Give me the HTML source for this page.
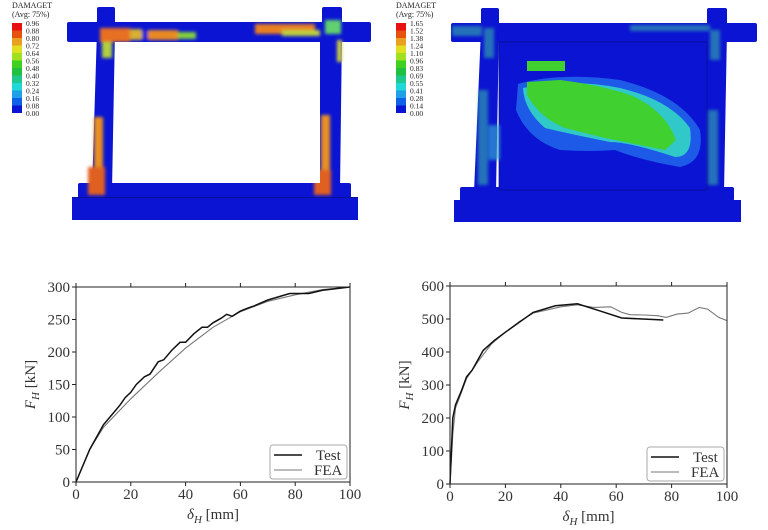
<!DOCTYPE html>
<html><head><meta charset="utf-8"><style>
html,body{margin:0;padding:0;background:#fff;}
svg{display:block;font-family:"Liberation Serif",serif;}
</style></head><body>
<svg id="root" width="768" height="530" viewBox="0 0 768 530" xmlns="http://www.w3.org/2000/svg">
<defs>
<filter id="bl" x="-20%" y="-20%" width="140%" height="140%"><feGaussianBlur stdDeviation="1.5"/></filter>
</defs>

<!-- LEFT FE MODEL -->
<g>
  <g font-size="8" fill="#222">
    <text x="12" y="8">DAMAGET</text>
    <text x="12" y="17">(Avg: 75%)</text>
    <g id="leg1"></g>
  </g>
  <g fill="#0a14d2">
    <rect x="97" y="7" width="18" height="20" rx="2"/>
    <rect x="322" y="7" width="20" height="20" rx="2"/>
    <rect x="67" y="22" width="304" height="20" rx="2"/>
    <polygon points="97,30 115,30 112,190 92,190"/>
    <polygon points="320,30 342,30 340,190 318,190"/>
    <rect x="78" y="183" width="273" height="15" rx="2"/>
    <rect x="72" y="197" width="286" height="23"/>
  </g>
  <line x1="72" y1="197.5" x2="358" y2="197.5" stroke="#061080" stroke-width="0.8"/>
  <g filter="url(#bl)">
    <rect x="100" y="28" width="30" height="14" fill="#e87020"/>
    <rect x="130" y="29" width="12" height="11" fill="#d8b030"/>
    <rect x="142" y="31" width="6" height="8" fill="#0a14d2"/>
    <rect x="148" y="30" width="30" height="10" fill="#e88a20"/>
    <rect x="178" y="32" width="18" height="7" fill="#80d040"/>
    <rect x="102" y="42" width="10" height="16" fill="#b0d040"/>
    <rect x="255" y="24" width="60" height="10" fill="#e88020"/>
    <rect x="282" y="30" width="38" height="6" fill="#c0d040"/>
    <rect x="325" y="20" width="16" height="14" fill="#60d070"/>
    <rect x="337" y="40" width="5" height="22" fill="#d0d040"/>
    <rect x="94" y="117" width="9" height="50" fill="#e89020"/>
    <rect x="88" y="167" width="17" height="28" fill="#e06020"/>
    <rect x="321" y="115" width="9" height="55" fill="#e89020"/>
    <rect x="314" y="170" width="17" height="25" fill="#e06020"/>
  </g>
  <rect x="115" y="42" width="205" height="141" fill="#fff"/>
</g>

<!-- RIGHT FE MODEL -->
<g>
  <g font-size="8" fill="#222">
    <text x="396" y="8">DAMAGET</text>
    <text x="396" y="17">(Avg: 75%)</text>
    <g id="leg2"></g>
  </g>
  <g fill="#0a14d2">
    <rect x="481" y="8" width="18" height="20" rx="2"/>
    <rect x="707" y="8" width="20" height="20" rx="2"/>
    <rect x="451" y="23" width="306" height="19" rx="2"/>
    <polygon points="481,30 499,30 496,192 474,192"/>
    <polygon points="707,30 727,30 724,192 704,192"/>
    <rect x="460" y="187" width="274" height="14" rx="2"/>
    <rect x="454" y="200" width="287" height="22"/>
    <rect x="499" y="42" width="208" height="148"/>
  </g>
  <rect x="499" y="42" width="208" height="148" fill="none" stroke="#061080" stroke-width="0.7"/>
  <g>
    <path d="M518,84 Q560,72 620,80 Q680,95 700,130 Q705,162 680,167 Q640,160 615,150 Q590,152 560,150 Q528,140 516,110 Z" fill="#1e5ae8"/>
    <path d="M523,88 Q570,78 620,88 Q670,100 690,128 Q694,157 675,157 Q630,142 610,142 Q570,134 545,128 Q524,110 523,88 Z" fill="#30c8c8"/>
    <path d="M527,82 L560,80 Q600,85 630,95 Q665,110 676,140 L665,150 Q640,145 605,138 L565,128 Q540,118 527,95 Z" fill="#40d030"/>
    <rect x="527" y="61" width="38" height="10" fill="#40d030"/>
    <rect x="488" y="125" width="12" height="35" fill="#30a0d0" opacity="0.7" filter="url(#bl)"/>
    <g fill="#40d0a0" opacity="0.5" filter="url(#bl)">
      <rect x="452" y="26" width="30" height="10"/>
      <rect x="484" y="28" width="10" height="30"/>
      <rect x="478" y="90" width="10" height="95"/>
      <rect x="630" y="25" width="80" height="6"/>
      <rect x="710" y="30" width="10" height="30"/>
      <rect x="708" y="110" width="10" height="75"/>
    </g>
  </g>
</g>

<!-- CHARTS -->
<g id="chartL"></g>
<g id="chartR"></g>
</svg>
<script>
const legendLabels1 = ["0.96","0.88","0.80","0.72","0.64","0.56","0.48","0.40","0.32","0.24","0.16","0.08","0.00"];
const legendLabels2 = ["1.65","1.52","1.38","1.24","1.10","0.96","0.83","0.69","0.55","0.41","0.28","0.14","0.00"];
const legendColors = ["#e81010","#e85010","#e8a020","#e0e020","#a0e020","#40d020","#20c040","#20c890","#20d8d8","#20a0e8","#1060e8","#0a14d2"];

const xTicks = [0,20,40,60,80,100];
const yTicksL = [0,50,100,150,200,250,300];
const yTicksR = [0,100,200,300,400,500,600];

const testXL = [0,5,10,13,16,18,20,22,25,27,30,32,35,38,40,43,46,48,50,53,55,57,60,63,65,70,78,85,90,100];
const testYL = [0,50,88,103,118,130,138,150,162,166,185,188,203,215,215,228,238,238,245,252,258,255,263,268,271,280,290,290,295,300];
const feaXL = [0,5,10,20,30,40,50,60,70,80,90,100];
const feaYL = [0,50,84,128,168,206,238,262,278,288,296,300];

const testXR = [0,1,2,4,6,8,12,16,20,25,30,38,46,54,62,77];
const testYR = [0,200,240,280,325,345,405,435,460,490,520,540,546,525,503,497];
const feaXR = [0,1,2,4,6,10,15,20,25,30,40,46,52,58,62,65,70,75,78,82,86,90,93,97,100];
const feaYR = [0,150,230,275,320,370,425,460,492,518,537,543,535,537,520,513,512,510,505,515,518,535,530,505,495];

const NS="http://www.w3.org/2000/svg";
function mk(p,tag,attrs){const e=document.createElementNS(NS,tag);for(const k in attrs)e.setAttribute(k,attrs[k]);p.appendChild(e);return e;}

function legend(id,x0,labels){
  const g=document.getElementById(id);
  legendColors.forEach((c,i)=>{
    const r=mk(g,'rect',{x:x0,y:23+i*7.5,width:10,height:7.5,fill:c});
    
    
  });
  labels.forEach((l,i)=>{
    const t=mk(g,'text',{x:x0+14,y:26+i*7.5,'font-size':7.5});
    t.textContent=l;
    
    
  });
}
legend('leg1',12,legendLabels1);
legend('leg2',396,legendLabels2);

function chart(id,box,ymax,yTicks,tx,ty,fx,fy){
  const g=document.getElementById(id);
  const X=v=>box.x0+(box.x1-box.x0)*v/100;
  const Y=v=>box.y0-(box.y0-box.y1)*v/ymax;
  const pts=(a,b)=>a.map((v,i)=>X(v).toFixed(1)+','+Y(b[i]).toFixed(1)).join(' ');
  const fe=mk(g,'polyline',{points:pts(fx,fy),fill:'none',stroke:'#777','stroke-width':1.1});
  
  
  const te=mk(g,'polyline',{points:pts(tx,ty),fill:'none',stroke:'#111','stroke-width':1.5});
  
  
  const fr=mk(g,'rect',{x:box.x0,y:box.y1,width:box.x1-box.x0,height:box.y0-box.y1,fill:'none',stroke:'#222','stroke-width':1});
  
  
  xTicks.forEach(v=>{
    mk(g,'line',{x1:X(v),x2:X(v),y1:box.y0,y2:box.y0+4,stroke:'#222'});
    mk(g,'line',{x1:X(v),x2:X(v),y1:box.y1,y2:box.y1-4,stroke:'#222'});
    const t=mk(g,'text',{x:X(v),y:box.y0+17,'text-anchor':'middle','font-size':15,fill:'#333'});
    t.textContent=v;
    
    
  });
  yTicks.forEach(v=>{
    mk(g,'line',{x1:box.x0-4,x2:box.x0,y1:Y(v),y2:Y(v),stroke:'#222'});
    const t=mk(g,'text',{x:box.x0-6,y:Y(v)+5,'text-anchor':'end','font-size':15,fill:'#333'});
    t.textContent=v;
    
    
  });
  const xl=mk(g,'text',{x:(box.x0+box.x1)/2,y:box.y0+37,'text-anchor':'middle','font-size':15,fill:'#333'});
  xl.innerHTML='<tspan font-style="italic">δ</tspan><tspan font-style="italic" font-size="11" dy="4">H</tspan><tspan dy="-4"> [mm]</tspan>';
  
  
  const yx=box.x0-41, yy=(box.y0+box.y1)/2;
  const yl=mk(g,'text',{x:yx,y:yy,'text-anchor':'middle','font-size':15,fill:'#333',transform:`rotate(-90 ${yx} ${yy})`});
  yl.innerHTML='<tspan font-style="italic">F</tspan><tspan font-style="italic" font-size="11" dy="4">H</tspan><tspan dy="-4"> [kN]</tspan>';
  
  
  const lg=mk(g,'g',{});
  
  
  const lx=box.x1-80, ly=box.y0-37;
  mk(lg,'rect',{x:lx,y:ly,width:77,height:34,rx:3,fill:'#fff',stroke:'#aaa','stroke-width':1});
  mk(lg,'line',{x1:lx+4,x2:lx+32,y1:ly+10,y2:ly+10,stroke:'#111','stroke-width':1.5});
  mk(lg,'line',{x1:lx+4,x2:lx+32,y1:ly+25,y2:ly+25,stroke:'#777','stroke-width':1.1});
  const t1=mk(lg,'text',{x:lx+46,y:ly+15,'font-size':15,fill:'#333'});t1.textContent='Test';
  
  
  const t2=mk(lg,'text',{x:lx+44,y:ly+30,'font-size':15,fill:'#333'});t2.textContent='FEA';
  
  
}
chart('chartL',{x0:76,x1:350,y0:482,y1:287},300,yTicksL,testXL,testYL,feaXL,feaYL);
chart('chartR',{x0:450,x1:727,y0:484,y1:286},600,yTicksR,testXR,testYR,feaXR,feaYR);
</script>
</body></html>
